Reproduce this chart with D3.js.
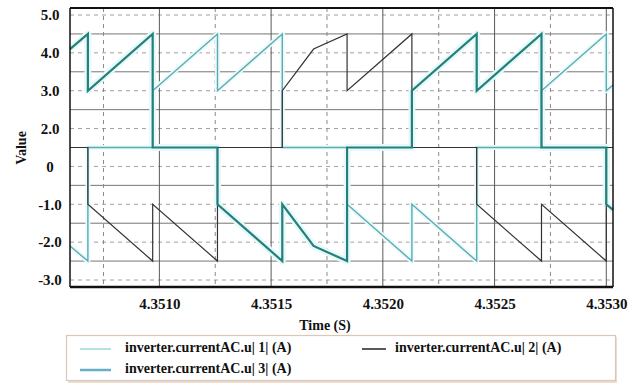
<!DOCTYPE html>
<html>
<head>
<meta charset="utf-8">
<script src="https://cdn.jsdelivr.net/npm/d3@7"></script>
<style>
  html, body { margin: 0; padding: 0; background: #fff; }
  svg { display: block; }
  text { font-family: "Liberation Serif", "DejaVu Serif", serif; font-weight: bold; fill: #111; }
</style>
</head>
<body>
<svg id="chart" width="642" height="390"></svg>
<script>
// ---------- data ----------
const seriesNames = ["inverter.currentAC.u| 1| (A)", "inverter.currentAC.u| 2| (A)", "inverter.currentAC.u| 3| (A)"];

// [time (s), value (A)]
const series1 = [
  [4.35060, -2.1], [4.35068, -2.5], [4.35068, 1.0], [4.35097, 1.0], [4.35097, 3.0],
  [4.35126, 4.5], [4.35126, 3.0], [4.35155, 4.5], [4.35155, 1.0], [4.35184, 1.0],
  [4.35184, -1.0], [4.35213, -2.5], [4.35213, -1.0], [4.35242, -2.5], [4.35242, 1.0],
  [4.35271, 1.0], [4.35271, 3.0], [4.35300, 4.5], [4.35300, 3.0], [4.35303, 3.15]
];
const series2 = [
  [4.35060, 1.0], [4.35068, 1.0], [4.35068, -1.0], [4.35097, -2.5], [4.35097, -1.0],
  [4.35126, -2.5], [4.35126, 1.0], [4.35155, 1.0], [4.35155, 3.0], [4.35169, 4.1],
  [4.35184, 4.5], [4.35184, 3.0], [4.35213, 4.5], [4.35213, 1.0], [4.35242, 1.0],
  [4.35242, -1.0], [4.35271, -2.5], [4.35271, -1.0], [4.35300, -2.5], [4.35300, 1.0],
  [4.35303, 1.0]
];
const series3 = [
  [4.35060, 4.1], [4.35068, 4.5], [4.35068, 3.0], [4.35097, 4.5], [4.35097, 1.0],
  [4.35126, 1.0], [4.35126, -1.0], [4.35155, -2.5], [4.35155, -1.0], [4.35169, -2.1],
  [4.35184, -2.5], [4.35184, 1.0], [4.35213, 1.0], [4.35213, 3.0], [4.35242, 4.5],
  [4.35242, 3.0], [4.35271, 4.5], [4.35271, 1.0], [4.35300, 1.0], [4.35300, -1.0],
  [4.35303, -1.15]
];

const xDomain = [4.35060, 4.35303];
const xTicks = [4.3510, 4.3515, 4.3520, 4.3525, 4.3530];
const xTickLabels = ["4.3510", "4.3515", "4.3520", "4.3525", "4.3530"];
const xMinorTicks = [4.35075, 4.35125, 4.35175, 4.35225, 4.35275];

const yTicks = [5, 4, 3, 2, 0, -1, -2, -3];
const yTickLabels = ["5.0", "4.0", "3.0", "2.0", "0", "-1.0", "-2.0", "-3.0"];
const yMinorTicks = [4.5, 3.5, 2.5, 1.0, -0.5, -1.5, -2.5];

// ---------- layout ----------
const plot = { left: 70, right: 613, top: 8, bottom: 287 };
const yTop = 15, yBottom = 280;

const svg = d3.select("#chart");

const x = d3.scaleLinear().domain(xDomain).range([plot.left, plot.right]);
// piecewise (poly-linear) y scale: tick labels are evenly spaced
const yDom = yTicks.slice().reverse();
const yRange = yDom.map((d, i) => yBottom - i * (yBottom - yTop) / (yDom.length - 1));
const y = d3.scaleLinear().domain(yDom).range(yRange);

// ---------- grid ----------
const grid = svg.append("g");
grid.selectAll("line.hmaj").data(yTicks).join("line")
  .attr("x1", plot.left).attr("x2", plot.right)
  .attr("y1", d => y(d)).attr("y2", d => y(d))
  .attr("stroke", "#a99aa2").attr("stroke-width", 1).attr("stroke-dasharray", "4,4");
grid.selectAll("line.hmin").data(yMinorTicks).join("line")
  .attr("x1", plot.left).attr("x2", plot.right)
  .attr("y1", d => y(d)).attr("y2", d => y(d))
  .attr("stroke", "#757575").attr("stroke-width", 1);
grid.selectAll("line.vmin").data(xMinorTicks).join("line")
  .attr("x1", d => x(d)).attr("x2", d => x(d))
  .attr("y1", plot.top).attr("y2", plot.bottom)
  .attr("stroke", "#8a8a8a").attr("stroke-width", 1).attr("stroke-dasharray", "4,4");
grid.selectAll("line.vmaj").data(xTicks).join("line")
  .attr("x1", d => x(d)).attr("x2", d => x(d))
  .attr("y1", plot.top).attr("y2", plot.bottom)
  .attr("stroke", "#5a5a5a").attr("stroke-width", 1);

// ---------- series ----------
const line = d3.line().x(d => x(d[0])).y(d => y(d[1]));
const lines = svg.append("g");
// light halo under coloured traces
lines.append("path").datum(series3).attr("d", line).attr("fill", "none")
  .attr("stroke", "#e6f8f9").attr("stroke-width", 7).attr("stroke-linejoin", "round");
lines.append("path").datum(series1).attr("d", line).attr("fill", "none")
  .attr("stroke", "#eef9fa").attr("stroke-width", 5).attr("stroke-linejoin", "round");
lines.append("path").datum(series1).attr("d", line).attr("fill", "none")
  .attr("stroke", "#54aeb4").attr("stroke-width", 1.4);
lines.append("path").datum(series2).attr("d", line).attr("fill", "none")
  .attr("stroke", "#333").attr("stroke-width", 1.2);
lines.append("path").datum(series3).attr("d", line).attr("fill", "none")
  .attr("stroke", "#23807a").attr("stroke-width", 2.2);

// ---------- frame ----------
svg.append("line").attr("x1", plot.left).attr("x2", plot.right).attr("y1", plot.top).attr("y2", plot.top)
  .attr("stroke", "#111").attr("stroke-width", 2);
svg.append("line").attr("x1", plot.left).attr("x2", plot.left).attr("y1", plot.top).attr("y2", plot.bottom)
  .attr("stroke", "#111").attr("stroke-width", 1.5);
svg.append("line").attr("x1", plot.right).attr("x2", plot.right).attr("y1", plot.top).attr("y2", plot.bottom)
  .attr("stroke", "#111").attr("stroke-width", 1.5);
svg.append("line").attr("x1", plot.left).attr("x2", plot.right).attr("y1", plot.bottom).attr("y2", plot.bottom)
  .attr("stroke", "#111").attr("stroke-width", 2.5);

// ---------- axes ----------
const xAxis = d3.axisBottom(x).tickValues(xTicks).tickFormat((d, i) => xTickLabels[i]).tickSize(0).tickPadding(11);
const gx = svg.append("g").attr("transform", `translate(0,${plot.bottom})`).call(xAxis);
gx.select(".domain").remove();
gx.selectAll("text").attr("font-size", 15).attr("font-family", "Liberation Serif").attr("font-weight", "bold").attr("fill", "#111");

const yAxis = d3.axisLeft(y).tickValues(yTicks).tickFormat((d, i) => yTickLabels[i]).tickSize(0).tickPadding(0);
const gy = svg.append("g").attr("transform", `translate(${plot.left},0)`).call(yAxis);
gy.select(".domain").remove();
gy.selectAll("text").attr("font-size", 15).attr("font-family", "Liberation Serif").attr("font-weight", "bold")
  .attr("fill", "#111").attr("text-anchor", "middle").attr("x", -20);

svg.append("text").attr("x", 325).attr("y", 330).attr("text-anchor", "middle")
  .attr("font-size", 14).text("Time (S)");
svg.append("text").attr("transform", "translate(26,148) rotate(-90)").attr("text-anchor", "middle")
  .attr("font-size", 14).text("Value");

// ---------- legend ----------
const lg = svg.append("g");
lg.append("rect").attr("x", 68).attr("y", 337).attr("width", 549).attr("height", 46)
  .attr("fill", "#e9ddd3");
lg.append("rect").attr("x", 66.5).attr("y", 335.5).attr("width", 549).attr("height", 45)
  .attr("fill", "#fff").attr("stroke", "#dcc6b4").attr("stroke-width", 1.2);
const legendItems = [
  { name: seriesNames[0], color: "#9fd6de", w: 1.5, x: 80, y: 347 },
  { name: seriesNames[2], color: "#68afc6", w: 2.5, x: 80, y: 368 },
  { name: seriesNames[1], color: "#222", w: 1.5, x: 362, y: 347 }
];
const li = lg.selectAll("g.item").data(legendItems).join("g");
li.append("line").attr("x1", d => d.x).attr("x2", d => d.x + (d.x > 200 ? 24 : 31))
  .attr("y1", d => d.y + 2).attr("y2", d => d.y + 2)
  .attr("stroke", d => d.color).attr("stroke-width", d => d.w);
li.append("text").attr("x", d => d.x + (d.x > 200 ? 33 : 45)).attr("y", d => d.y).attr("dy", "0.35em")
  .attr("font-size", 14).text(d => d.name);
</script>
</body>
</html>
